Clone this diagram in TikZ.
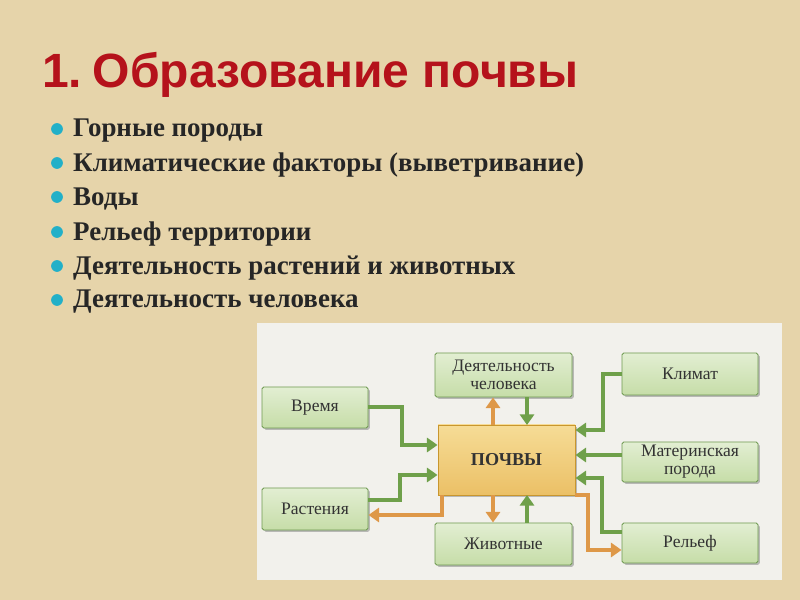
\documentclass[tikz,border=0pt]{standalone}
\usepackage{fontspec}
\setmainfont{Liberation Serif}
\newfontfamily\titlefont{Liberation Sans}
\usetikzlibrary{arrows.meta,shadows}
\definecolor{parch}{HTML}{E6D4AA}
\definecolor{titlered}{HTML}{B5121B}
\definecolor{bulletc}{HTML}{22B0C8}
\definecolor{gfill}{HTML}{C6DDA8}
\definecolor{gtop}{HTML}{E2EED2}
\definecolor{gedge}{HTML}{6E9A50}
\definecolor{yfill}{HTML}{EBC066}
\definecolor{ytop}{HTML}{F6DC96}
\definecolor{yedge}{HTML}{C8962E}
\definecolor{garr}{HTML}{6FA04A}
\definecolor{oarr}{HTML}{DE9848}
\definecolor{panel}{HTML}{F2F1EC}
\begin{document}
\begin{tikzpicture}[x=0.03cm,y=-0.03cm,
  gbox/.style={draw=gedge,line width=0.8pt,top color=gtop,bottom color=gfill,rounded corners=1.5pt,
    drop shadow={shadow xshift=1.5pt,shadow yshift=-1.5pt,fill=black!50},
    font=\fontsize{15}{15.5}\selectfont,text=black!80,align=center,inner sep=0pt},
  ybox/.style={draw=yedge,line width=0.8pt,top color=ytop,bottom color=yfill,
    drop shadow={shadow xshift=1.5pt,shadow yshift=-1.5pt,fill=black!50},
    font=\bfseries\fontsize{15.5}{16}\selectfont,text=black!80,inner sep=0pt},
  ga/.style={draw=garr,line width=2.8pt,-{Triangle[length=9pt,width=12pt,fill=garr]}},
  oa/.style={draw=oarr,line width=2.8pt,-{Triangle[length=9pt,width=12pt,fill=oarr]}},
  bul/.style={circle,fill=bulletc,inner sep=0pt,minimum size=10pt},
  item/.style={anchor=west,font=\bfseries\fontsize{23}{24}\selectfont,text=black!85,inner sep=0pt}]
\fill[parch] (0,0) rectangle (800,600);
\useasboundingbox (0,0) rectangle (800,600);
\node[anchor=west,font=\titlefont\bfseries\fontsize{41}{44}\selectfont,text=titlered,inner sep=0pt] (title) at (42,75) {1.\kern-0.15em{} Образование почвы};
\foreach \y/\t [count=\i] in {131/Горные породы,165/Климатические факторы (выветривание),199/Воды,234/Рельеф территории,268/Деятельность растений и животных,302/Деятельность человека}{
  \node[bul] (b\i) at (57,\y-2) {};
  \node[item] (t\i) at (73,\y) {\t};
}
\fill[panel] (257,323) rectangle (782,580);
\node[gbox,minimum width=106*0.03cm,minimum height=41*0.03cm] (vremya) at (315,407.5) {Время};
\node[gbox,minimum width=137*0.03cm,minimum height=44*0.03cm] (deyat) at (503.5,375) {Деятельность\\человека};
\node[gbox,minimum width=136*0.03cm,minimum height=42*0.03cm] (klimat) at (690,374) {Климат};
\node[ybox,minimum width=137*0.03cm,minimum height=70*0.03cm] (pochvy) at (506.5,460) {ПОЧВЫ};
\node[gbox,minimum width=136*0.03cm,minimum height=40*0.03cm] (mat) at (690,462) {Материнская\\порода};
\node[gbox,minimum width=106*0.03cm,minimum height=42*0.03cm] (rast) at (315,509) {Растения};
\node[gbox,minimum width=137*0.03cm,minimum height=42*0.03cm] (zhiv) at (503.5,544) {Животные};
\node[gbox,minimum width=136*0.03cm,minimum height=40*0.03cm] (relef) at (690,543) {Рельеф};
% left
\draw[ga] (vremya.east |- 0,407) -| (402,445) -- (pochvy.west |- 0,445);
\draw[ga] (rast.east |- 0,500) -| (400,475) -- (pochvy.west |- 0,475);
\draw[oa] (442,495) |- (rast.east |- 0,515);
% top/bottom
\draw[oa] (493,425) -- (deyat.south -| 493,0);
\draw[ga] (deyat.south -| 527,0) -- (527,425);
\draw[oa] (493,495) -- (zhiv.north -| 493,0);
\draw[ga] (zhiv.north -| 527,0) -- (527,495);
% right
\draw[ga] (klimat.west) -| (603,430) -- (pochvy.east |- 0,430);
\draw[ga] (mat.west |- 0,455) -- (pochvy.east |- 0,455);
\draw[ga] (relef.west |- 0,532) -| (602,478) -- (pochvy.east |- 0,478);
\draw[oa] (575,495) -| (588,550) -- (relef.west |- 0,550);
\end{tikzpicture}
\end{document}
